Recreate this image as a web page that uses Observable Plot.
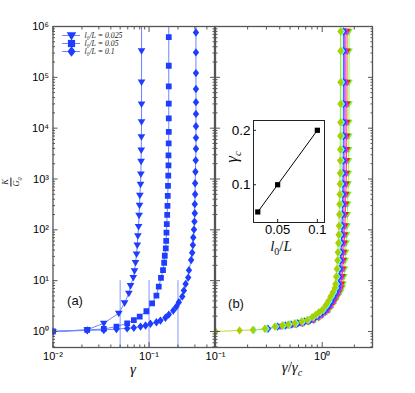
<!DOCTYPE html>
<html><head><meta charset="utf-8">
<script src="https://cdn.jsdelivr.net/npm/d3@7"></script>
<script src="https://cdn.jsdelivr.net/npm/@observablehq/plot@0.6"></script>
<style>
body{margin:0;background:#fff;}
#wrap{position:relative;width:415px;height:393px;overflow:hidden;font-family:"Liberation Sans",Arial,sans-serif;background:#fff;}
#wrap svg{position:absolute;left:0;top:0;background:transparent;overflow:visible;}
.lab{position:absolute;white-space:nowrap;transform:translate(-50%,-50%);color:#111;line-height:1;}
.m{font-family:"Liberation Serif","DejaVu Serif",serif;font-style:italic;}
</style></head><body><div id="wrap"></div>
<script>
// ---------- data: left panel (K/G0 vs gamma) ----------
const lOverL = [0.025, 0.05, 0.1];
const gammaC = [0.05, 0.1, 0.2];
const gammaTri = [0.01, 0.0227, 0.0338, 0.0484, 0.0556, 0.0616, 0.0642, 0.0685, 0.0706, 0.0723, 0.0741, 0.0754, 0.0765, 0.0778, 0.0787, 0.0796, 0.0802, 0.0815, 0.0822, 0.0826, 0.0829, 0.0832, 0.0835, 0.0835, 0.0835, 0.0835, 0.0836];
const kTri = [1, 1.08, 1.45, 2.29, 3.65, 5.64, 7.98, 11.5, 15.7, 22.8, 33.4, 50.1, 76.3, 116, 194, 305, 479, 787, 1253, 2223, 3704, 6748, 13300, 29900, 80900, 334000, 5e6];
const gammaSq = [0.01, 0.0227, 0.0338, 0.0458, 0.0592, 0.0695, 0.0799, 0.0938, 0.1076, 0.1193, 0.1262, 0.1331, 0.1397, 0.1437, 0.1458, 0.1493, 0.1508, 0.1518, 0.1529, 0.1544, 0.1555, 0.1566, 0.1574, 0.1585, 0.1593, 0.1593, 0.16, 0.1604, 0.1604, 0.1604, 0.1604, 0.1604, 0.1604, 0.1605];
const kSq = [1, 1.07, 1.12, 1.25, 1.45, 1.68, 1.97, 2.5, 3.59, 5.08, 7.62, 11.3, 16.1, 22.5, 30.9, 43, 60.8, 88.5, 129, 197, 296, 465, 729, 1161, 1858, 2917, 5012, 8450, 15500, 30500, 66700, 169000, 617000, 5e6];
const gammaDia = [0.01, 0.0227, 0.0338, 0.0458, 0.0592, 0.0694, 0.0815, 0.092, 0.1034, 0.1194, 0.1313, 0.1481, 0.1605, 0.1785, 0.1926, 0.2041, 0.2217, 0.2305, 0.2402, 0.2555, 0.2603, 0.2742, 0.2813, 0.2858, 0.2886, 0.2935, 0.2968, 0.2992, 0.2992, 0.3016, 0.3016, 0.3041, 0.3058, 0.3077, 0.3077, 0.3077, 0.3077, 0.3077, 0.3077, 0.3077, 0.3077, 0.3077, 0.3078];
const kDia = [1, 1.05, 1.07, 1.12, 1.15, 1.18, 1.25, 1.31, 1.42, 1.52, 1.64, 1.86, 2.15, 2.58, 3.09, 3.76, 4.86, 6.37, 8.61, 11.5, 16.1, 25.5, 35.4, 50.1, 70.6, 101, 145, 212, 319, 501, 824, 1390, 2328, 3930, 6460, 10900, 19100, 32400, 59000, 121000, 309000, 762000, 5e6];

// ---------- data: right panel (collapse, K/G0 vs gamma/gamma_c) ----------
const collapseK = [1.0, 1.05, 1.07, 1.13, 1.25, 1.31, 1.37, 1.45, 1.57, 1.69, 1.91, 2.12, 2.39, 2.66, 3.24, 3.93, 4.86, 5.9, 7.2, 8.6, 12, 17, 25, 36, 55, 80, 120, 200, 320, 500, 800, 1300, 2300, 3800, 7000, 13000, 30000, 80000, 330000, 800000];
const xYellow = [0.1, 0.168, 0.224, 0.29, 0.36, 0.422, 0.48, 0.553, 0.64, 0.723, 0.806, 0.865, 0.93, 1.0, 1.074, 1.138, 1.196, 1.257, 1.312, 1.33, 1.35, 1.37, 1.39, 1.40, 1.415, 1.425, 1.435, 1.445, 1.45, 1.457, 1.462, 1.467, 1.472, 1.475, 1.478, 1.48, 1.482, 1.484, 1.485, 1.485];
const xCyan = [null, null, 0.23, 0.30, 0.37, 0.435, 0.495, 0.57, 0.66, 0.745, 0.83, 0.895, 0.96, 1.03, 1.105, 1.17, 1.23, 1.295, 1.35, 1.37, 1.39, 1.41, 1.43, 1.445, 1.46, 1.47, 1.48, 1.49, 1.5, 1.505, 1.51, 1.515, 1.52, 1.523, 1.526, 1.528, 1.53, 1.532, 1.533, 1.533];
const xBlue = [null, null, null, 0.31, 0.38, 0.45, 0.51, 0.59, 0.68, 0.77, 0.86, 0.93, 1.0, 1.07, 1.15, 1.215, 1.275, 1.34, 1.395, 1.415, 1.44, 1.46, 1.48, 1.495, 1.51, 1.52, 1.53, 1.54, 1.55, 1.556, 1.562, 1.567, 1.572, 1.575, 1.578, 1.58, 1.582, 1.584, 1.585, 1.585];
const xPurple = [null, null, null, null, 0.40, 0.47, 0.53, 0.61, 0.70, 0.79, 0.88, 0.95, 1.02, 1.09, 1.17, 1.24, 1.30, 1.37, 1.42, 1.44, 1.465, 1.485, 1.505, 1.52, 1.535, 1.545, 1.555, 1.565, 1.575, 1.582, 1.59, 1.596, 1.602, 1.606, 1.61, 1.613, 1.615, 1.617, 1.618, 1.618];
const xMagenta = [null, null, null, null, null, 0.49, 0.55, 0.63, 0.72, 0.81, 0.90, 0.97, 1.04, 1.11, 1.19, 1.26, 1.33, 1.40, 1.45, 1.47, 1.495, 1.515, 1.535, 1.55, 1.565, 1.577, 1.588, 1.6, 1.61, 1.618, 1.626, 1.632, 1.638, 1.642, 1.646, 1.649, 1.651, 1.653, 1.654, 1.654];
const xRed = [null, null, null, null, null, null, 0.57, 0.65, 0.74, 0.83, 0.92, 0.99, 1.06, 1.13, 1.21, 1.29, 1.36, 1.43, 1.49, 1.51, 1.535, 1.555, 1.575, 1.59, 1.605, 1.62, 1.632, 1.645, 1.656, 1.665, 1.675, 1.682, 1.69, 1.694, 1.699, 1.702, 1.705, 1.707, 1.708, 1.708];
const xGreen = [null, null, null, null, null, null, null, 0.67, 0.76, 0.85, 0.94, 1.01, 1.08, 1.16, 1.24, 1.32, 1.40, 1.48, 1.54, 1.57, 1.6, 1.62, 1.64, 1.66, 1.675, 1.69, 1.705, 1.72, 1.73, 1.74, 1.75, 1.758, 1.765, 1.77, 1.775, 1.778, 1.781, 1.783, 1.784, 1.784];

// ---------- ticks ----------
const yMajor = [1, 10, 100, 1e3, 1e4, 1e5, 1e6];
const yMinor = [0.5, 0.6, 0.7, 0.8, 0.9, 2, 3, 4, 5, 6, 7, 8, 9, 20, 30, 40, 50, 60, 70, 80, 90, 200, 300, 400, 500, 600, 700, 800, 900, 2e3, 3e3, 4e3, 5e3, 6e3, 7e3, 8e3, 9e3, 2e4, 3e4, 4e4, 5e4, 6e4, 7e4, 8e4, 9e4, 2e5, 3e5, 4e5, 5e5, 6e5, 7e5, 8e5, 9e5];
const leftXMajor = [0.01, 0.1];
const leftXMinor = [0.02, 0.03, 0.04, 0.05, 0.06, 0.07, 0.08, 0.09, 0.2, 0.3, 0.4];
const rightXMajor = [0.1, 1];
const rightXMinor = [0.2, 0.3, 0.4, 0.5, 0.6, 0.7, 0.8, 0.9, 2];
const insetXTicks = [0.05, 0.1];
const insetYTicks = [0.1, 0.2];

// ---------- helpers ----------
const W = 415, H = 393;
const blue = "#1f3dff", lineBlue = "#6d84ff";
const sym = (pts) => ({draw(ctx, size) {
  const r = Math.sqrt(size / Math.PI);
  ctx.moveTo(pts[0][0] * r, pts[0][1] * r);
  for (let i = 1; i < pts.length; i++) ctx.lineTo(pts[i][0] * r, pts[i][1] * r);
  ctx.closePath();
}});
const triDown = sym([[-1.2, -0.8], [1.2, -0.8], [0, 1.25]]);
const diamond = sym([[0, -1.3], [1.0, 0], [0, 1.3], [-1.0, 0]]);
const square = sym([[-0.9, -0.9], [0.9, -0.9], [0.9, 0.9], [-0.9, 0.9]]);
const triUp = sym([[-1.2, 0.8], [1.2, 0.8], [0, -1.25]]);

const supMap = {"-": "⁻", "0": "⁰", "1": "¹", "2": "²", "3": "³", "4": "⁴", "5": "⁵", "6": "⁶", "7": "⁷", "8": "⁸", "9": "⁹"};
const fmtPow = v => "10" + String(Math.round(Math.log10(v))).split("").map(c => supMap[c]).join("");

function inTicks(xMaj, xMin, yMaj, yMin, stroke, big = 5, small = 2.5) {
  const o = {stroke, label: null, tickFormat: () => ""};
  const out = [];
  for (const [t, s] of [[xMaj, big], [xMin, small]]) {
    out.push(Plot.axisX(t, {...o, anchor: "bottom", tickSize: s, dy: -s}));
    out.push(Plot.axisX(t, {...o, anchor: "top", tickSize: s, dy: s}));
  }
  for (const [t, s] of [[yMaj, big], [yMin, small]]) {
    out.push(Plot.axisY(t, {...o, anchor: "left", tickSize: s, dx: s}));
    out.push(Plot.axisY(t, {...o, anchor: "right", tickSize: s, dx: -s}));
  }
  return out;
}
const rows = (xs, ks) => xs.map((x, i) => ({x, k: ks[i]})).filter(d => d.x != null);

const wrap = document.getElementById("wrap");
const baseStyle = {background: "transparent", fontFamily: "Liberation Sans, Arial, sans-serif", fontSize: "11px", overflow: "visible"};
const yScale = {type: "log", domain: [0.484, 1e6], label: null};

// ---------- left panel ----------
const leftSeries = [
  {d: rows(gammaTri, kTri), s: triDown},
  {d: rows(gammaSq, kSq), s: square},
  {d: rows(gammaDia, kDia), s: diamond}
];
const left = Plot.plot({
  width: W, height: H, marginLeft: 52.5, marginRight: 201, marginTop: 26, marginBottom: 46,
  style: baseStyle,
  x: {type: "log", domain: [0.01, 0.48], label: null},
  y: yScale,
  marks: [
    Plot.ruleX(gammaC, {x: d => d, y1: 0.484, y2: 10, stroke: "#8696ff", strokeWidth: 1}),
    ...leftSeries.map(S => Plot.line(S.d, {x: "x", y: "k", stroke: lineBlue, strokeWidth: 1, clip: true})),
    ...leftSeries.map(S => Plot.dot(S.d, {x: "x", y: "k", symbol: S.s, r: 3.2, fill: blue, stroke: "none", clip: true})),
    Plot.frame({stroke: "#555", strokeWidth: 1.3}),
    ...inTicks(leftXMajor, leftXMinor, yMajor, yMinor, "#555"),
    Plot.axisX(leftXMajor, {anchor: "bottom", tickSize: 0, tickPadding: 5, tickFormat: fmtPow, label: null, fontSize: 11}),
    Plot.axisY(yMajor, {anchor: "left", tickSize: 0, tickPadding: 4, tickFormat: fmtPow, label: null, fontSize: 11})
  ]
});
wrap.appendChild(left);

// ---------- right panel ----------
const rightSeries = [
  {xs: xGreen, c: "#66ff22", s: triDown},
  {xs: xRed, c: "#ff1a1a", s: triDown},
  {xs: xMagenta, c: "#ee44ee", s: triUp},
  {xs: xPurple, c: "#a040ff", s: square},
  {xs: xBlue, c: blue, s: diamond},
  {xs: xCyan, c: "#70ffd0", s: diamond},
  {xs: xYellow, c: "#a6d000", s: diamond}
];
const right = Plot.plot({
  width: W, height: H, marginLeft: 215, marginRight: 43, marginTop: 26, marginBottom: 46,
  style: baseStyle,
  x: {type: "log", domain: [0.1, 2.96], label: null},
  y: yScale,
  marks: [
    ...rightSeries.map(S => Plot.line(rows(S.xs, collapseK), {x: "x", y: "k", stroke: S.c, strokeWidth: 0.8, clip: true})),
    ...rightSeries.map(S => Plot.dot(rows(S.xs, collapseK), {x: "x", y: "k", symbol: S.s, r: 3.2, fill: S.c, stroke: "none", clip: true})),
    Plot.frame({stroke: "#555", strokeWidth: 1.3}),
    ...inTicks(rightXMajor, rightXMinor, yMajor, yMinor, "#555"),
    Plot.axisX(rightXMajor, {anchor: "bottom", tickSize: 0, tickPadding: 5, tickFormat: fmtPow, label: null, fontSize: 11})
  ]
});
wrap.appendChild(right);

// ---------- inset ----------
const insetRows = lOverL.map((l, i) => ({l, g: gammaC[i]}));
const inset = Plot.plot({
  width: W, height: H, marginLeft: 253, marginRight: 91, marginTop: 120, marginBottom: 171,
  style: {...baseStyle, fontSize: "13px"},
  x: {domain: [0.0196, 0.109], label: null},
  y: {domain: [0.0306, 0.218], label: null},
  marks: [
    Plot.frame({fill: "#fff", stroke: "#222", strokeWidth: 1}),
    Plot.line(insetRows, {x: "l", y: "g", stroke: "#000", strokeWidth: 1}),
    Plot.dot(insetRows, {x: "l", y: "g", symbol: square, r: 2.9, fill: "#000", stroke: "none"}),
    Plot.axisX(insetXTicks, {anchor: "bottom", tickSize: 3, dy: -3, tickFormat: () => "", label: null, stroke: "#222"}),
    Plot.axisY(insetYTicks, {anchor: "left", tickSize: 3, dx: 3, tickFormat: () => "", label: null, stroke: "#222"}),
    Plot.axisX(insetXTicks, {anchor: "bottom", tickSize: 0, tickPadding: 2, tickFormat: d => String(d), label: null, fontSize: 13}),
    Plot.axisY(insetYTicks, {anchor: "left", tickSize: 0, tickPadding: 3, tickFormat: d => String(d), label: null, fontSize: 13.5})
  ]
});
wrap.appendChild(inset);

// ---------- legend (inside left panel) ----------
const legendLabels = lOverL.map(v => `l₀/L = ${v}`);
const legendSyms = [triDown, square, diamond];
const legend = Plot.plot({
  width: W, height: H, marginLeft: 62, marginRight: 335, marginTop: 34.3, marginBottom: 341.3,
  style: baseStyle,
  x: {domain: [0, 1], axis: null},
  y: {type: "point", domain: legendLabels, padding: 0, axis: null},
  marks: [
    Plot.ruleY(legendLabels, {y: d => d, stroke: lineBlue, strokeWidth: 1}),
    ...legendLabels.map((lab, i) => Plot.dot([lab], {y: d => d, frameAnchor: "middle", symbol: legendSyms[i], r: 4, fill: blue, stroke: "none"})),
    Plot.text(legendLabels, {y: d => d, text: d => d, frameAnchor: "right", dx: 4, textAnchor: "start", fontSize: 7.8, fontStyle: "italic", fontFamily: "Liberation Serif, serif", fill: "#222"})
  ]
});
wrap.appendChild(legend);

// ---------- titles / labels ----------
function addLabel(html, x, y, css) {
  const d = document.createElement("div");
  d.className = "lab";
  d.innerHTML = html;
  d.style.left = x + "px"; d.style.top = y + "px";
  Object.assign(d.style, css || {});
  wrap.appendChild(d);
}
addLabel('<span class="m">γ</span>', 133, 369, {fontSize: "15px"});
addLabel('<span class="m">γ</span>/<span class="m">γ</span><sub class="m" style="font-size:10px">c</sub>', 292, 369, {fontSize: "15px", fontFamily: "Liberation Serif, serif"});
addLabel('<span style="display:inline-flex;flex-direction:column;align-items:center;line-height:1"><span class="m">K</span><span class="m" style="border-top:0.8px solid #111;padding-top:1px">G<sub style="font-size:6px">0</sub></span></span>', 11.5, 182, {fontSize: "8.5px", transform: "translate(-50%,-50%) rotate(-90deg)"});
addLabel('(a)', 75, 300, {fontSize: "13px"});
addLabel('(b)', 236, 303, {fontSize: "13px"});
addLabel('<span class="m">γ</span><sub class="m" style="font-size:11px">c</sub>', 233, 157, {fontSize: "17px", transform: "translate(-50%,-50%) rotate(-90deg)"});
addLabel('<span class="m">l</span><sub style="font-size:10px;font-family:Liberation Serif,serif">0</sub><span style="font-family:Liberation Serif,serif">/</span><span class="m">L</span>', 281, 247, {fontSize: "15px"});
</script></body></html>
